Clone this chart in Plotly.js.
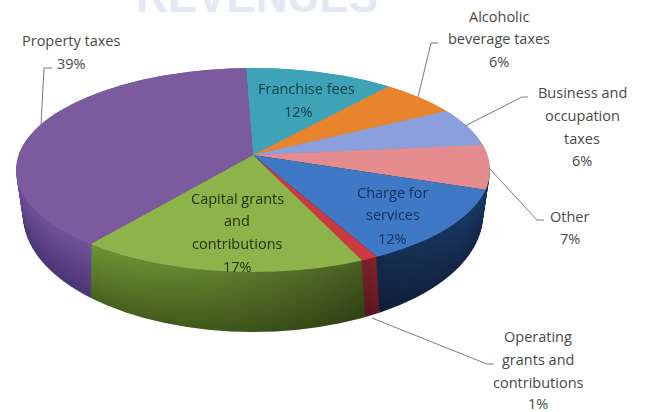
<!DOCTYPE html>
<html><head><meta charset="utf-8">
<script src="https://cdn.plot.ly/plotly-3.0.1.min.js"></script>
<style>html,body{margin:0;padding:0;background:#fff;overflow:hidden}</style>
</head><body><div id="chart" style="width:645px;height:412px"></div>
<script>
const categories = ["Franchise fees","Alcoholic beverage taxes","Business and occupation taxes","Other","Charge for services","Operating grants and contributions","Capital grants and contributions","Property taxes"];
const shares = [12,6,6,7,12,1,17,39];
const topColors = ["#3ea3b6","#e8832e","#8a9fdc","#e58c8e","#3f79c6","#cc3a40","#8cb44a","#7b5a9d"];
const sideTop = ["#2b7a8a","#b0601c","#1a3a66","#1a3a66","#1a3a66","#c0343e","#6f9436","#705298"];
const sideBottom = ["#205e6c","#8a4a14","#14284a","#14284a","#14284a","#8a2230","#4a6420","#4b3676"];
const outerInk="#484848";
const labelLines = [
 ["Property taxes",71,41,outerInk],["39%",71,63,outerInk],
 ["Alcoholic",499,17,outerInk],["beverage taxes",499,39,outerInk],["6%",499,62,outerInk],
 ["Business and",582,92,outerInk],["occupation",582,115,outerInk],["taxes",582,138,outerInk],["6%",582,161,outerInk],
 ["Other",569,216,outerInk],["7%",570,238,outerInk],
 ["Operating",538,336,outerInk],["grants and",538,359,outerInk],["contributions",538,382,outerInk],["1%",538,403,outerInk],
 ["Franchise fees",306,88,"#123c4c"],["12%",298,111,"#123c4c"],
 ["Capital grants",237,198,"#24330c"],["and",237,220,"#24330c"],["contributions",237,244,"#24330c"],["17%",237,266,"#24330c"],
 ["Charge for",393,192,"#16305e"],["services",393,214,"#16305e"],["12%",393,238,"#16305e"]
];
const innerFrom=15;
const leaders = [
 [[41,125],[44,68],[52,68]],
 [[418,97],[431,43],[438,43]],
 [[465,126],[522,97],[528,97]],
 [[489,168],[537,220],[544,220]],
 [[372,318],[487,364],[494,364]]
];
const W=645,H=412, LAYERS=30;
const px=x=>x/W, py=y=>1-y/H;
function hex(c){return [1,3,5].map(i=>parseInt(c.substr(i,2),16));}
function mix(a,b,t){const A=hex(a),B=hex(b);return 'rgb('+A.map((v,i)=>Math.round(v+(B[i]-v)*t)).join(',')+')';}
const base={type:'pie',values:shares,labels:categories,sort:false,direction:'clockwise',rotation:-2,textinfo:'none',hoverinfo:'skip',showlegend:false,domain:{x:[0,1],y:[0,1]}};
const traces=[],specs=[];
for(let i=LAYERS;i>=1;i--){
  const t=i/LAYERS;
  traces.push(Object.assign({},base,{marker:{colors:sideTop.map((c,j)=>mix(c,sideBottom[j],t)),line:{width:0}}}));
  specs.push({apexY:155+53*t,rx:237*1.4,ry:100*1.4,ex:237-7*t,ey:102+15*t,ecy:170+45*t,side:true});
}
traces.push(Object.assign({},base,{marker:{colors:topColors,line:{width:0}}}));
specs.push({apexY:155,rx:237*1.4,ry:100*1.4,ex:237,ey:102,ecy:170});
traces.push(Object.assign({},base,{marker:{colors:topColors,line:{width:0}}}));
specs.push({apexY:155,rx:237*1.03,ry:105*1.03,ex:237,ey:102,ecy:170,upper:true});

const annotations=labelLines.map(l=>({xref:'paper',yref:'paper',x:px(l[1]),y:py(l[2]),text:l[0],showarrow:false,xanchor:'center',yanchor:'middle',font:{family:'Open Sans, sans-serif',size:14.5,color:l[3]}}));
annotations.push({xref:'paper',yref:'paper',x:px(257),y:py(23),text:'<b>REVENUES</b>',showarrow:false,xanchor:'center',yanchor:'bottom',font:{family:'Liberation Sans, sans-serif',size:44,color:'#e4e8f2'}});
const shapes=leaders.map(p=>({type:'path',xref:'paper',yref:'paper',path:'M'+p.map(q=>px(q[0])+','+py(q[1])).join('L'),line:{color:'#6b6b6b',width:0.9}}));

const layout={width:W,height:H,margin:{l:0,r:0,t:0,b:0,pad:0},paper_bgcolor:'#fff',plot_bgcolor:'#fff',annotations,shapes,showlegend:false};
Plotly.newPlot('chart',traces,layout,{staticPlot:true,displayModeBar:false}).then(gd=>{
  const NS='http://www.w3.org/2000/svg';
  const mk=(n,a)=>{const e=document.createElementNS(NS,n);for(const k in a)e.setAttribute(k,a[k]);return e;};
  const svg=gd.querySelector('.main-svg');
  const defs=svg.querySelector('defs')||svg.insertBefore(mk('defs',{}),svg.firstChild);
  const groups=[...gd.querySelectorAll('.pielayer .trace')];
  const grad=mk('linearGradient',{id:'wallShade',gradientUnits:'userSpaceOnUse',x1:90,y1:0,x2:490,y2:0});
  [[0,0],[0.3,0.12],[0.7,0.36],[0.74,0.2],[1,0]].forEach(s=>grad.appendChild(mk('stop',{offset:s[0],'stop-color':'#000','stop-opacity':s[1]})));
  defs.appendChild(grad);
  const wallClip=mk('clipPath',{id:'wallClip'});
  specs.filter(s=>s.side).forEach(s=>wallClip.appendChild(mk('ellipse',{cx:253,cy:s.ecy,rx:s.ex,ry:s.ey})));
  defs.appendChild(wallClip);
  groups.forEach((g,i)=>{
    const s=specs[i],c=gd.calcdata[i][0];
    g.setAttribute('transform','matrix('+(s.rx/c.r)+',0,0,'+(s.ry/c.r)+','+(253-c.cx*s.rx/c.r)+','+(s.apexY-c.cy*s.ry/c.r)+')');
    const cp=mk('clipPath',{id:'ell'+i});
    cp.appendChild(mk('ellipse',{cx:253,cy:s.ecy,rx:s.ex,ry:s.ey}));defs.appendChild(cp);
    const wrap=mk('g',{'clip-path':'url(#ell'+i+')'});
    g.parentNode.insertBefore(wrap,g);
    let inner=wrap;
    if(s.upper){
      const cr=mk('clipPath',{id:'half'+i});
      cr.appendChild(mk('rect',{x:0,y:0,width:W,height:155}));defs.appendChild(cr);
      inner=mk('g',{'clip-path':'url(#half'+i+')'});wrap.appendChild(inner);
    }
    inner.appendChild(g);
    if(i===LAYERS-1){
      wrap.parentNode.insertBefore(mk('rect',{x:0,y:150,width:W,height:200,fill:'url(#wallShade)','clip-path':'url(#wallClip)'}),wrap.nextSibling);
    }
  });
  gd.querySelector('.pielayer').style.filter='blur(0.7px)';
  const ann=[...gd.querySelectorAll('.annotation')];
  ann.slice(innerFrom,labelLines.length).forEach(a=>a.style.filter='blur(0.5px)');
});
</script></body></html>
